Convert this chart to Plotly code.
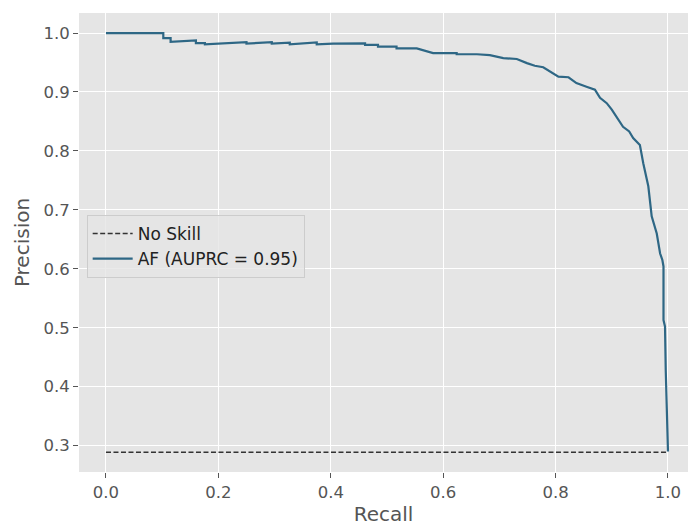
import plotly.graph_objects as go

# Data
no_skill_recall = [0.0, 1.0]
no_skill_precision = [0.289, 0.289]

recall = [0.0, 0.102, 0.102, 0.115, 0.115, 0.16, 0.16, 0.176, 0.176, 0.25, 0.25, 0.295,
          0.295, 0.327, 0.327, 0.375, 0.375, 0.404, 0.461, 0.461, 0.484, 0.484, 0.517,
          0.517, 0.553, 0.567, 0.582, 0.624, 0.624, 0.66, 0.683, 0.707, 0.731, 0.749,
          0.763, 0.778, 0.79, 0.805, 0.823, 0.837, 0.855, 0.870, 0.879, 0.891, 0.900,
          0.909, 0.920, 0.931, 0.938, 0.950, 0.956, 0.965, 0.968, 0.971, 0.980, 0.986,
          0.990, 0.992, 0.992, 0.9947, 0.996, 0.9988, 1.0]
precision = [1.0, 1.0, 0.9915, 0.9915, 0.985, 0.9875, 0.983, 0.983, 0.981, 0.9847, 0.982,
             0.9845, 0.982, 0.9835, 0.981, 0.984, 0.981, 0.982, 0.9825, 0.980, 0.980, 0.977,
             0.977, 0.974, 0.974, 0.970, 0.966, 0.966, 0.964, 0.964, 0.9626, 0.9575, 0.956,
             0.949, 0.9445, 0.942, 0.935, 0.926, 0.925, 0.915, 0.909, 0.904, 0.890, 0.881,
             0.870, 0.856, 0.841, 0.833, 0.822, 0.810, 0.779, 0.740, 0.717, 0.689, 0.660,
             0.626, 0.615, 0.604, 0.513, 0.502, 0.428, 0.338, 0.290]

x_ticks = [0.0, 0.2, 0.4, 0.6, 0.8, 1.0]
y_ticks = [0.3, 0.4, 0.5, 0.6, 0.7, 0.8, 0.9, 1.0]

FONT = "DejaVu Sans"
TXT = "#555555"

fig = go.Figure()
fig.add_trace(go.Scatter(
    x=no_skill_recall, y=no_skill_precision, mode="lines", name="No Skill",
    line=dict(color="#333333", width=1.5, dash="5px,2.5px"), legendgroup="a"))
fig.add_trace(go.Scatter(
    x=recall, y=precision, mode="lines", name="AF (AUPRC = 0.95)",
    line=dict(color="#2e6785", width=2.2), legendgroup="b"))

fig.update_layout(
    width=688, height=527, autosize=False,
    margin=dict(l=79, r=0, t=13, b=55),
    paper_bgcolor="white", plot_bgcolor="#e5e5e5",
    font=dict(family=FONT, size=16.5, color=TXT),
    legend=dict(x=0.0126, y=0.56, xanchor="left", yanchor="top",
                bgcolor="rgba(229,229,229,0.8)", bordercolor="#cccccc", borderwidth=1,
                font=dict(family=FONT, size=17, color="#222222"),
                itemwidth=40, tracegroupgap=0, traceorder="grouped"),
    showlegend=True,
)
fig.update_xaxes(range=[-0.048, 1.0356], tickvals=x_ticks, tickformat=".1f",
                 showgrid=True, gridcolor="white", gridwidth=1.3, zeroline=False,
                 ticks="outside", ticklen=5, tickcolor=TXT, tickwidth=1,
                 tickfont=dict(family=FONT, size=16.5, color=TXT),
                 title=dict(text="Recall", font=dict(family=FONT, size=20, color=TXT), standoff=6),
                 showline=False)
fig.update_yaxes(range=[0.2553, 1.034], tickvals=y_ticks, tickformat=".1f",
                 showgrid=True, gridcolor="white", gridwidth=1.3, zeroline=False,
                 ticks="outside", ticklen=5, tickcolor=TXT, tickwidth=1,
                 tickfont=dict(family=FONT, size=16.5, color=TXT),
                 title=dict(text="Precision", font=dict(family=FONT, size=20, color=TXT), standoff=8),
                 showline=False)

fig.write_html("out.html")
